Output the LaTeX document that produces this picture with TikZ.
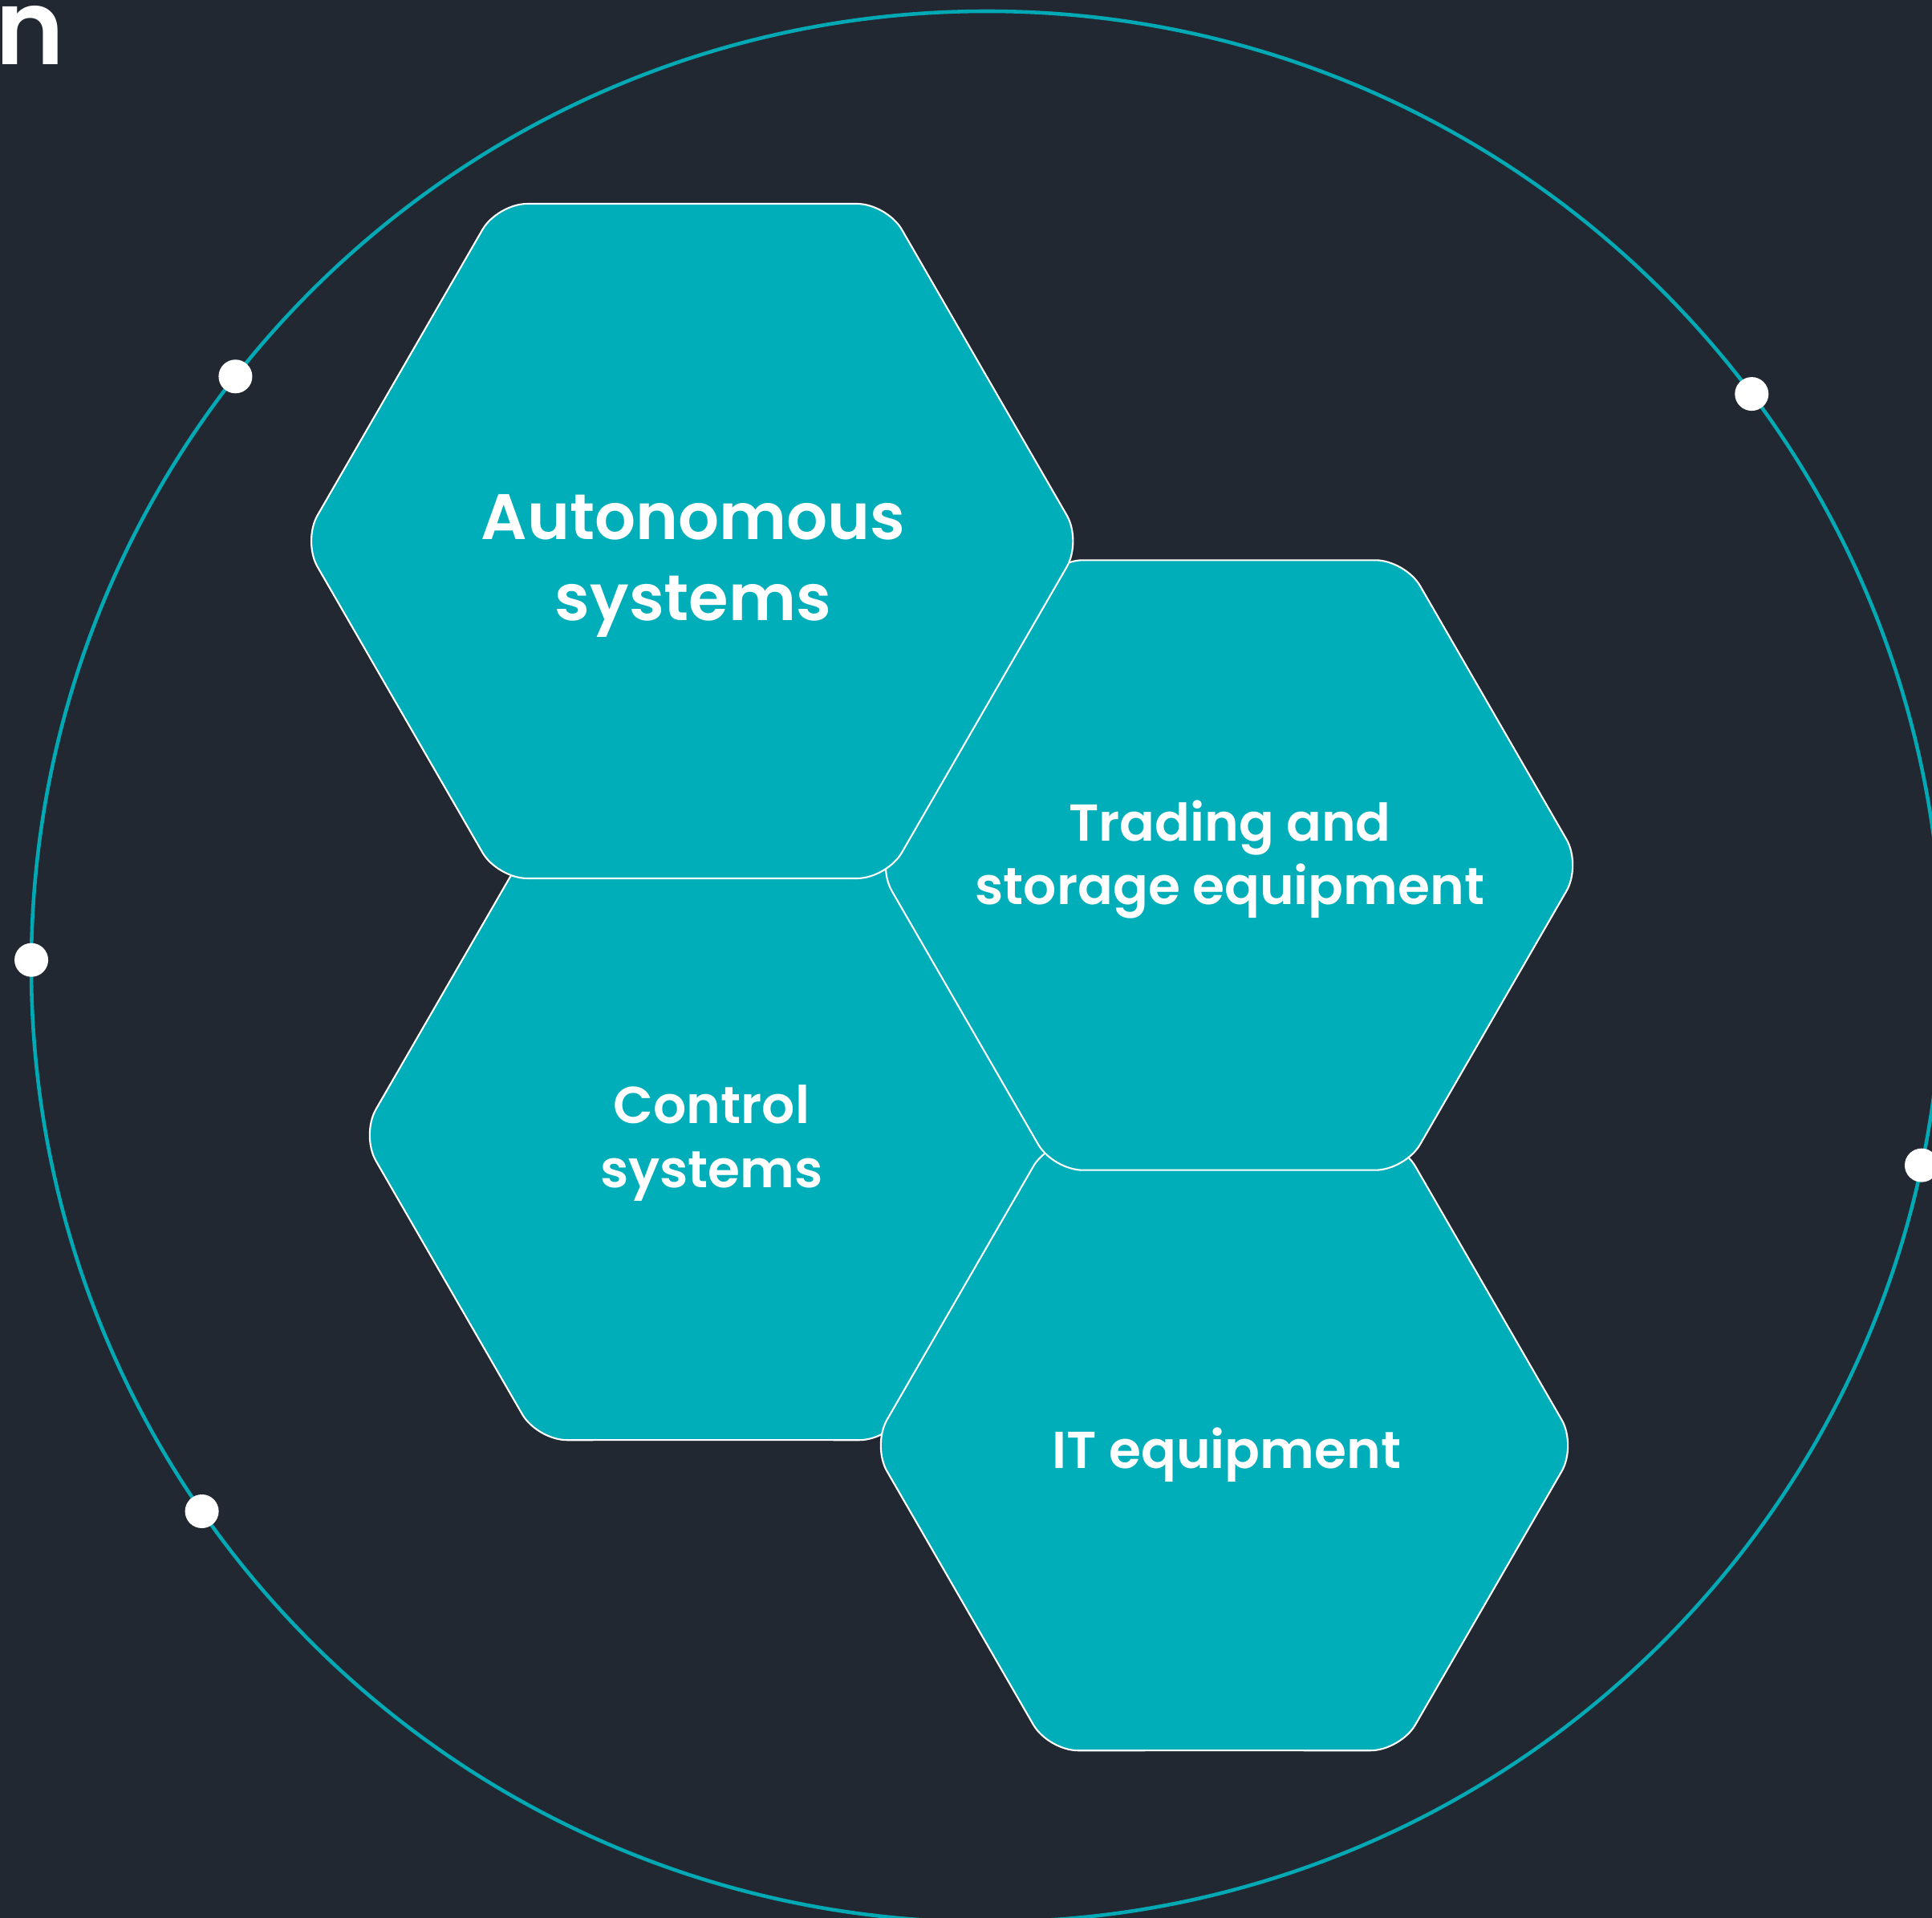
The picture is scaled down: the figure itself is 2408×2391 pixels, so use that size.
\documentclass[tikz,border=0pt]{standalone}
\usepackage{fontspec}
\setmainfont{Poppins SemiBold}
\usetikzlibrary{calc}
\definecolor{bgnavy}{HTML}{222831}
\definecolor{hexteal}{HTML}{00AEB9}
\definecolor{ringteal}{HTML}{00A9B4}
\tikzset{
	ring/.style={draw=ringteal,line width=1.3pt},
	hexface/.style={fill=hexteal,draw=white,line width=0.6pt,rounded corners=0.37cm},
	ringdot/.style={circle,fill=white,inner sep=0pt,minimum size=0.42cm},
	hexlabelbig/.style={text=white,align=center,inner sep=0pt,anchor=north,font={\fontsize{22.8pt}{28.7pt}\selectfont}},
	hexlabel/.style={text=white,align=center,inner sep=0pt,anchor=north,font={\fontsize{18.4pt}{22.6pt}\selectfont}},
	titlefrag/.style={text=white,inner sep=0pt,anchor=base east,font={\fontsize{37pt}{40pt}\selectfont}}
}
\begin{document}
\begin{tikzpicture}[x=0.01cm,y=-0.01cm]
	%Background
		\fill[bgnavy] (0,0) rectangle (2408,2391);
		\useasboundingbox (0,0) rectangle (2408,2391);
		\clip (0,0) rectangle (2408,2391);
	%Title fragment
		\node[titlefrag] (title) at (81,80.7) {n};
	%Outer ring
		\coordinate (ring) at (1230,1205);
		\draw[ring] (ring) circle (1191);
	%Hexagons, back to front
		\foreach \name/\cx/\cy/\r in {hexC/889/1415/439,hexD/1526/1802/439,hexB/1532/1078.5/439,hexA/862.7/674.5/485.5}
		{
			\coordinate (\name) at (\cx,\cy);
			\pgfmathsetmacro\h{0.866*\r}
			\draw[hexface,shift={(\name)}] (90:\h) -- (120:\r) -- (180:\r) -- (240:\r) -- (300:\r) -- (0:\r) -- (60:\r) -- cycle;
		}
	%Labels
		\node[hexlabelbig] (autoText) at (864,616) {Autonomous\\systems};
		\node[hexlabel] (tradeText) at (1533,997) {Trading and\\storage equipment};
		\node[hexlabel] (ctrlText) at (887,1352) {Control\\systems};
		\node[hexlabel] (itText) at (1529,1779) {IT equipment};
	%Dots on the ring (y points down, so angles run clockwise)
		\foreach \a [count=\i] in {-141.85,-36.83,-179.6,12,-214.76}
			\node[ringdot] (dot\i) at ($(ring)+(\a:1191)$) {};
\end{tikzpicture}
\end{document}
